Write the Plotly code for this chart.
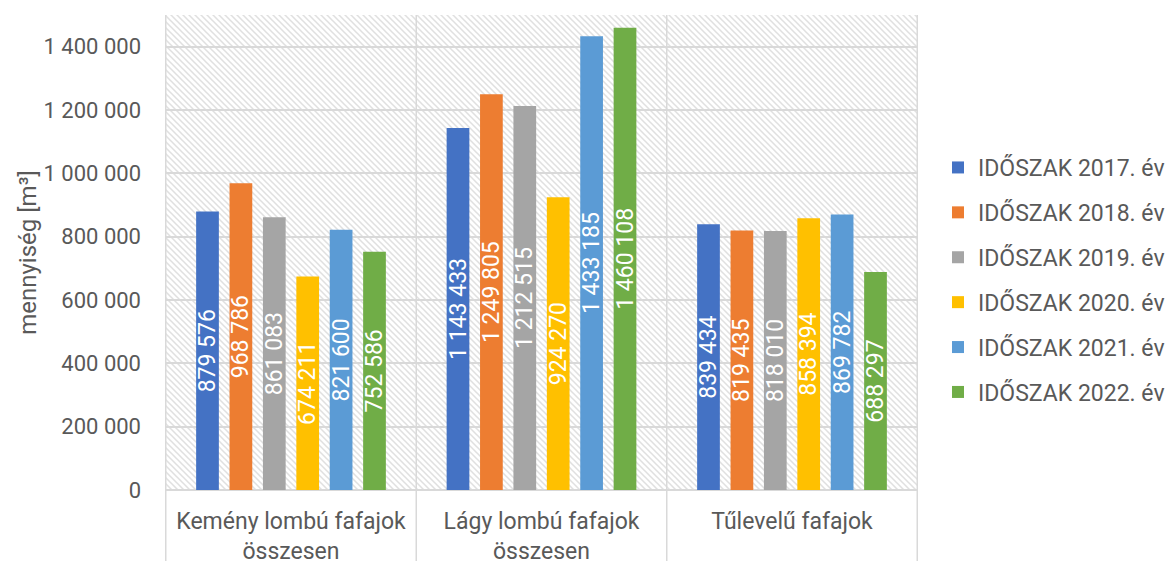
import base64
import plotly.graph_objects as go

# Species groups on the category axis
categories = [
    "Kemény lombú fafajok<br>összesen",
    "Lágy lombú fafajok<br>összesen",
    "Tűlevelű fafajok",
]

# Harvested volume per period, m³
series_names = [
    "IDŐSZAK 2017. év",
    "IDŐSZAK 2018. év",
    "IDŐSZAK 2019. év",
    "IDŐSZAK 2020. év",
    "IDŐSZAK 2021. év",
    "IDŐSZAK 2022. év",
]
values_2017 = [879576, 1143433, 839434]
values_2018 = [968786, 1249805, 819435]
values_2019 = [861083, 1212515, 818010]
values_2020 = [674211, 924270, 858394]
values_2021 = [821600, 1433185, 869782]
values_2022 = [752586, 1460108, 688297]
series_values = [values_2017, values_2018, values_2019,
                 values_2020, values_2021, values_2022]

colors = ["#4472C4", "#ED7D31", "#A5A5A5", "#FFC000", "#5B9BD5", "#70AD47"]

y_max = 1500000
y_step = 200000

FONT = "Roboto"
TEXT_GREY = "#595959"
GRID = "#d9d9d9"

W, H = 1172, 561
M_L, M_R, M_T, M_B = 165, 254, 15, 71
PW, PH = W - M_L - M_R, H - M_T - M_B

fig = go.Figure()
for name, vals, col in zip(series_names, series_values, colors):
    fig.add_trace(go.Bar(
        x=categories,
        y=vals,
        name=name,
        legendgroup=name,
        marker=dict(color=col, line=dict(width=0)),
        texttemplate="%{y:,}",
        textposition="inside",
        insidetextanchor="middle",
        textangle=-90,
        constraintext="none",
        textfont=dict(family=FONT, size=23, color="white"),
        cliponaxis=False,
    ))

# Diagonal hatch for the plot background
hatch_svg = (
    f'<svg xmlns="http://www.w3.org/2000/svg" width="{PW}" height="{PH}">'
    '<defs><pattern id="h" width="6" height="6" patternUnits="userSpaceOnUse">'
    '<rect width="6" height="6" fill="white"/>'
    '<path d="M-1,-1 L7,7 M-1,5 L1,7 M5,-1 L7,1" stroke="#e0e0e0" stroke-width="1.5"/>'
    '</pattern></defs>'
    f'<rect width="{PW}" height="{PH}" fill="url(#h)"/></svg>'
)
hatch_uri = "data:image/svg+xml;base64," + base64.b64encode(hatch_svg.encode()).decode()

# Category boundary lines running through the label band
boundary_shapes = [
    dict(type="line", xref="x", yref="paper",
         x0=i - 0.5, x1=i - 0.5, y0=-M_B / PH, y1=1,
         line=dict(color=GRID, width=1.5), layer="below")
    for i in range(len(categories) + 1)
]

fig.update_layout(
    width=W, height=H,
    margin=dict(l=M_L, r=M_R, t=M_T, b=M_B, autoexpand=False),
    paper_bgcolor="white",
    plot_bgcolor="white",
    separators=", ",
    barmode="group",
    bargap=0.2,
    bargroupgap=0.32,
    font=dict(family=FONT, color=TEXT_GREY),
    images=[dict(source=hatch_uri, xref="paper", yref="paper", x=0, y=1,
                 sizex=1, sizey=1, sizing="stretch", xanchor="left",
                 yanchor="top", layer="below")],
    shapes=boundary_shapes,
    xaxis=dict(
        showgrid=False, zeroline=False, showline=False, ticks="",
        tickfont=dict(family=FONT, size=23, color=TEXT_GREY),
        ticklabelstandoff=15,
        automargin=False,
    ),
    yaxis=dict(
        range=[0, y_max],
        dtick=y_step,
        tickformat=",d",
        showgrid=True, gridcolor=GRID, gridwidth=1.5,
        zeroline=True, zerolinecolor=GRID, zerolinewidth=1.5,
        showline=False, ticks="",
        tickfont=dict(family=FONT, size=22, color=TEXT_GREY),
        ticklabelstandoff=23,
        title=dict(text="mennyiség [m³]", standoff=0,
                   font=dict(family=FONT, size=24, color=TEXT_GREY)),
        automargin=False,
    ),
    legend=dict(
        x=(938 - M_L) / PW, xanchor="left",
        y=(490 - 280) / PH, yanchor="middle",
        font=dict(family=FONT, size=23, color=TEXT_GREY),
        tracegroupgap=12,
        itemclick=False,
        bgcolor="rgba(0,0,0,0)",
    ),
    showlegend=True,
)

fig.write_html("out.html")
